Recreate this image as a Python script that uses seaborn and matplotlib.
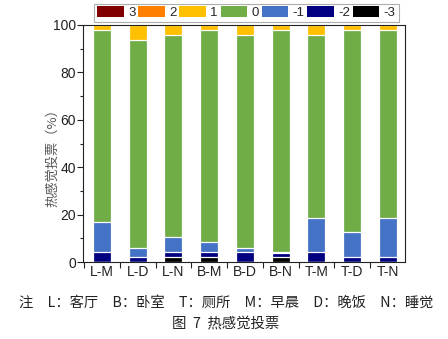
import matplotlib
matplotlib.use("Agg")
import matplotlib.pyplot as plt
import seaborn as sns
import numpy as np
import pandas as pd
from matplotlib.patches import Patch
from matplotlib.ticker import MultipleLocator, FixedLocator

sns.set_theme(style="ticks")
plt.rcParams['font.family'] = ['Liberation Sans', 'Noto Sans CJK SC', 'DejaVu Sans']

categories = ["L-M", "L-D", "L-N", "B-M", "B-D", "B-N", "T-M", "T-D", "T-N"]
levels = ["3", "2", "1", "0", "-1", "-2", "-3"]
v_p3 = [0, 0, 0, 0, 0, 0, 0, 0, 0]
v_p2 = [0, 0, 0, 0, 0, 0, 0, 0, 0]
v_p1 = [2.0, 6.5, 4.4, 2.2, 4.4, 2.2, 4.4, 2.2, 2.2]
v_0 = [81.3, 87.5, 85.2, 89.4, 89.6, 93.7, 77.0, 85.1, 79.2]
v_m1 = [12.5, 3.9, 6.3, 4.3, 1.9, 0.2, 14.5, 10.6, 16.5]
v_m2 = [4.2, 2.1, 2.0, 2.0, 4.1, 1.8, 4.1, 2.1, 2.1]
v_m3 = [0, 0, 2.1, 2.1, 0, 2.1, 0, 0, 0]
colors = ["#800000", "#FF8000", "#FFC000", "#70AD47", "#4472C4", "#000080", "#000000"]

series = {"3": v_p3, "2": v_p2, "1": v_p1, "0": v_0, "-1": v_m1, "-2": v_m2, "-3": v_m3}

fig = plt.figure(figsize=(4.48, 3.39), dpi=100)
ax = fig.add_axes([83/448, 1-262/339, (405-83)/448, (262-25)/339])

# cumulative from bottom (-3) upward
order_bottom_up = levels[::-1]
cum = np.zeros(len(categories))
cums = {}
for lv in order_bottom_up:
    cum = cum + np.array(series[lv], dtype=float)
    cums[lv] = cum.copy()

# draw tallest (top level) first, then overlay lower cumulative bars
for lv, col in zip(levels, colors):
    df = pd.DataFrame({"cat": categories, "val": cums[lv]})
    sns.barplot(data=df, x="cat", y="val", color=col, width=0.5,
                edgecolor="white", linewidth=0.9, saturation=1, ax=ax,
                order=categories)

ax.set_xlim(-0.53, 8.48)
ax.set_ylim(0, 100)
ax.set_xlabel("")
ax.set_ylabel("")
for s in ["top", "right", "left", "bottom"]:
    ax.spines[s].set_visible(True)
    ax.spines[s].set_color("#222222")
    ax.spines[s].set_linewidth(0.8)

ax.yaxis.set_major_locator(MultipleLocator(20))
ax.yaxis.set_minor_locator(MultipleLocator(10))
ax.tick_params(axis="y", which="major", direction="out", length=4, width=0.8,
               labelsize=10, colors="#222222", pad=1)
ax.tick_params(axis="y", which="minor", direction="out", length=2, width=0.8, colors="#222222")
ax.set_xticks(range(len(categories)))
ax.set_xticklabels(categories)
ax.xaxis.set_minor_locator(FixedLocator(np.arange(-0.5, 8.6, 1.0)))
ax.tick_params(axis="x", which="major", length=0, labelsize=10, colors="#222222", pad=2)
ax.tick_params(axis="x", which="minor", direction="out", length=4, width=0.8, colors="#222222")

fig.text(53/448, 1-155/339, "热感觉投票（%）", rotation=90, ha="center", va="center",
         fontsize=9.5, color="#555555", family=["Noto Sans CJK SC", "DejaVu Sans"])

handles = [Patch(facecolor=c, edgecolor="none") for c in colors]
leg = fig.legend(handles, levels, loc="upper center", ncol=7,
                 bbox_to_anchor=(246.5/448, 1-3.5/339), fontsize=9.5,
                 handlelength=2.0, handleheight=0.9, handletextpad=0.35,
                 columnspacing=0.2, borderpad=0.22, borderaxespad=0,
                 frameon=True, fancybox=False, edgecolor="#999999")
leg.get_frame().set_linewidth(0.8)

fig.text(226/448, 1-303/339,
         "注\u3000L：客厅\u3000B：卧室\u3000T：厕所\u3000M：早晨\u3000D：晚饭\u3000N：睡觉",
         ha="center", va="center", fontsize=10.3, color="#222222",
         family=["Noto Sans CJK SC", "DejaVu Sans"])
fig.text(226/448, 1-324/339, "图  7  热感觉投票", ha="center", va="center",
         fontsize=10.4, color="#222222", family=["Noto Sans CJK SC", "DejaVu Sans"])

fig.savefig("out.png", dpi=100)
